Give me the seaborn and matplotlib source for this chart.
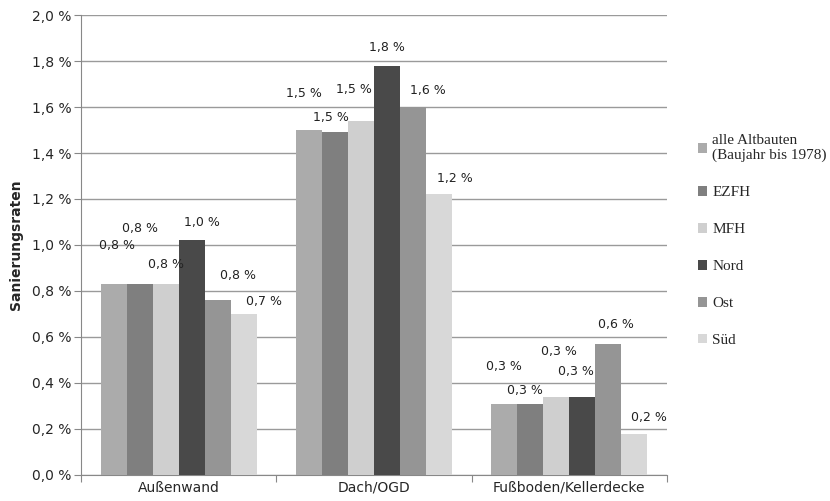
import pandas as pd
import seaborn as sns
import matplotlib.pyplot as plt
from matplotlib.ticker import FuncFormatter, FixedLocator

# data (Sanierungsraten in %)
bauteile = ['Außenwand', 'Dach/OGD', 'Fußboden/Kellerdecke']
gruppen = ['alle Altbauten\n(Baujahr bis 1978)', 'EZFH', 'MFH', 'Nord', 'Ost', 'Süd']
alle_altbauten = [0.83, 1.50, 0.31]
ezfh = [0.83, 1.49, 0.31]
mfh = [0.83, 1.54, 0.34]
nord = [1.02, 1.78, 0.34]
ost = [0.76, 1.60, 0.57]
sued = [0.70, 1.22, 0.18]
beschriftung = [['0,8 %', '0,8 %', '0,8 %', '1,0 %', '0,8 %', '0,7 %'],
                ['1,5 %', '1,5 %', '1,5 %', '1,8 %', '1,6 %', '1,2 %'],
                ['0,3 %', '0,3 %', '0,3 %', '0,3 %', '0,6 %', '0,2 %']]

# label offsets in pixels (dx, dy) from bar top
offsets = [[(3, 39), (0, 56), (0, 20), (10, 18), (20, 25), (20, 12)],
           [(-5, 37), (-4, 15), (-7, 31), (0, 18), (15, 17), (16, 16)],
           [(0, 37), (-5, 13), (3, 45), (-6, 25), (8, 19), (15, 16)]]

farben = ['#ababab', '#7f7f7f', '#cfcfcf', '#494949', '#959595', '#d8d8d8']

werte = [alle_altbauten, ezfh, mfh, nord, ost, sued]
rows = []
for g, vals in zip(gruppen, werte):
    for b, v in zip(bauteile, vals):
        rows.append({'Bauteil': b, 'Gruppe': g, 'Rate': v})
df = pd.DataFrame(rows)

sns.set_style('white')
plt.rcParams['font.family'] = ['DejaVu Sans']

fig = plt.figure(figsize=(8.3, 5.01), dpi=100)
ax = fig.add_axes([0.0976, 0.052, 0.706, 0.918])

sns.barplot(data=df, x='Bauteil', y='Rate', hue='Gruppe', order=bauteile,
            hue_order=gruppen, palette=farben, width=0.8, saturation=1,
            edgecolor='none', ax=ax, zorder=3)

# value labels
for gi, cont in enumerate(ax.containers):
    for bi, bar in enumerate(cont):
        dx, dy = offsets[bi][gi]
        ax.annotate(beschriftung[bi][gi],
                    (bar.get_x() + bar.get_width() / 2, bar.get_height()),
                    xytext=(dx, dy), textcoords='offset pixels',
                    ha='center', va='center', fontsize=9, color='#222222')

ax.set_ylim(0, 2.0)
ax.set_xlim(-0.5, 2.5)
ax.set_yticks([i * 0.2 for i in range(11)])
ax.yaxis.set_major_formatter(FuncFormatter(lambda v, p: f'{v:.1f} %'.replace('.', ',')))
ax.yaxis.grid(True, color='#9a9a9a', lw=1)
ax.set_axisbelow(True)

ax.xaxis.set_major_locator(FixedLocator([-0.5, 0.5, 1.5, 2.5]))
ax.xaxis.set_minor_locator(FixedLocator([0, 1, 2]))
ax.set_xticklabels([], minor=False)
ax.set_xticklabels(bauteile, minor=True, fontsize=10)
ax.tick_params(axis='x', which='major', length=5, color='#888888', direction='out')
ax.tick_params(axis='y', length=5, color='#888888', direction='out', labelsize=10, pad=2)
ax.tick_params(left=True, bottom=True, which='both')
ax.tick_params(axis='x', which='minor', length=0, pad=4)

for s in ['top', 'right']:
    ax.spines[s].set_visible(False)
for s in ['left', 'bottom']:
    ax.spines[s].set_color('#888888')

ax.set_xlabel('')
ax.set_ylabel('Sanierungsraten', fontsize=10, fontweight='bold', labelpad=6)

handles, labels = ax.get_legend_handles_labels()
ax.legend(handles, labels, loc='center left', bbox_to_anchor=(1.03, 0.51),
          frameon=False, prop={'family': 'Liberation Serif', 'size': 11},
          handlelength=0.6, handleheight=0.6, handletextpad=0.3,
          labelspacing=1.55)

plt.savefig('out.png', dpi=100)
